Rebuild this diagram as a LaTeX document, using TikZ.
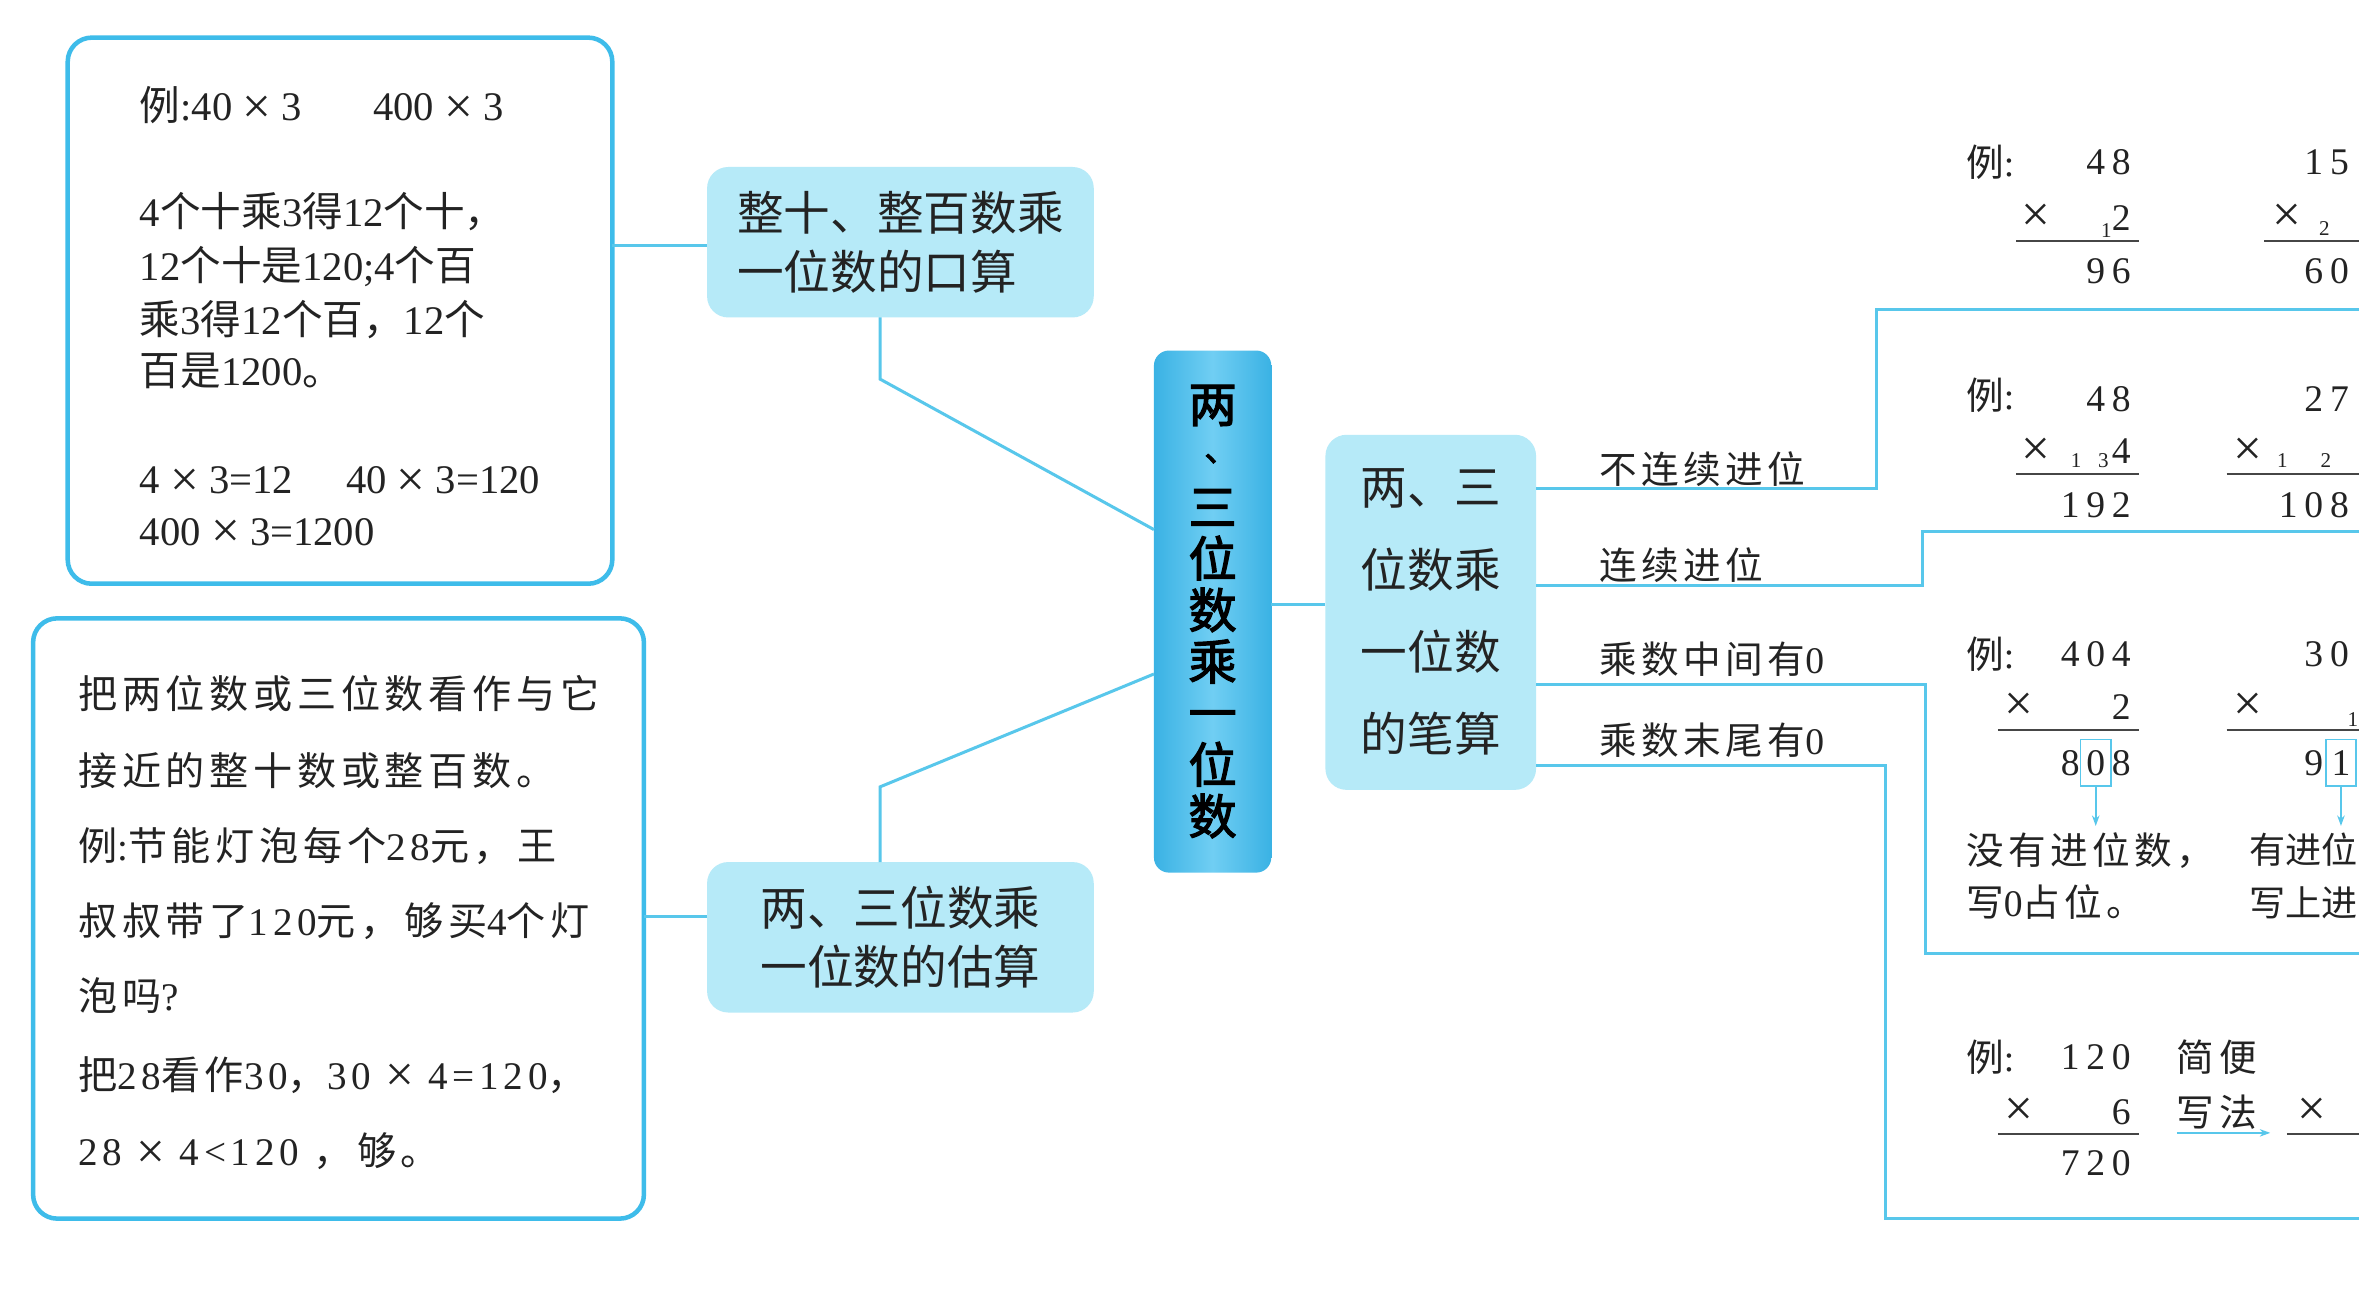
\documentclass[tikz,border=0pt]{standalone}
\usepackage{fontspec}
\setmainfont{Liberation Serif}
\newfontfamily\cjkA{Noto Sans CJK SC}[AutoFakeBold=2.5]
\newfontfamily\cjkB{Noto Sans CJK SC}[LetterSpace=12]
\newfontfamily\latA{Liberation Serif}
\newfontfamily\latB{Liberation Serif}[LetterSpace=12]
\usetikzlibrary{arrows.meta}
\newcount\cjkcnt
\def\setclassrange#1#2#3{\cjkcnt=#1\relax
  \loop\XeTeXcharclass\cjkcnt=#3\relax
  \ifnum\cjkcnt<#2\advance\cjkcnt by 1\relax\repeat}
\setclassrange{"0021}{"007E}{0}
\XeTeXcharclass"00D7=0
\setclassrange{"3000}{"303F}{5}
\setclassrange{"4E00}{"9FFF}{5}
\setclassrange{"FF00}{"FFEF}{5}
\def\cjkfont{\cjkA}
\def\latfont{\latA}
\XeTeXinterchartokenstate=1
\XeTeXinterchartoks 0 5 = {\cjkfont}
\XeTeXinterchartoks 5 0 = {\latfont}
\XeTeXinterchartoks 4095 5 = {\cjkfont}
\XeTeXinterchartoks 5 4095 = {\latfont}
\newcommand\spfont{\def\cjkfont{\cjkB}\def\latfont{\latB}\latB}
\newcommand\dd[1]{\makebox[17pt]{#1}}
\newcommand\X{{\fontsize{34}{34}\selectfont\raisebox{-1.5pt}{×}}}
\definecolor{linec}{RGB}{88,199,235}
\definecolor{boxc}{RGB}{62,188,234}
\definecolor{nodec}{RGB}{182,234,248}
\definecolor{ctrA}{RGB}{58,178,228}
\definecolor{ctrB}{RGB}{112,206,243}
\definecolor{txt}{RGB}{35,35,35}
\definecolor{rulec}{RGB}{70,70,70}
\tikzset{
  every node/.style={inner sep=0pt, outer sep=0pt, text=txt},
  bigbox/.style={draw=boxc, line width=3pt, rounded corners=16pt, fill=white},
  topic/.style={fill=nodec, rounded corners=14pt, minimum width=257pt, minimum height=100pt,
     font=\fontsize{31}{39}\selectfont},
  conn/.style={draw=linec, line width=2pt},
  tA/.style={anchor=west, font=\fontsize{27}{32}\selectfont, text height=23.8pt, text depth=3.2pt},
  tB/.style={anchor=west, font=\spfont\fontsize{26}{30}\selectfont, text height=22.9pt, text depth=3.1pt},
  lab/.style={anchor=west, font=\spfont\fontsize{25}{30}\selectfont, text height=22pt, text depth=3pt},
  labn/.style={anchor=west, font=\fontsize{24}{30}\selectfont, text height=21.1pt, text depth=2.9pt},
  num/.style={font=\fontsize{25}{30}\selectfont},
  mul/.style={font=\fontsize{34}{34}\selectfont},
  carry/.style={font=\fontsize{14}{16}\selectfont},
  rulel/.style={draw=rulec, line width=1.3pt},
  arr/.style={draw=linec, line width=1pt, -{Stealth[length=7pt,width=5pt]}},
  digbox/.style={draw=linec, line width=1pt, minimum width=20pt, minimum height=31pt},
}
\begin{document}
\begin{tikzpicture}[x=1pt,y=-1pt]
\useasboundingbox (0,0) rectangle (1568,862);
\fill[white] (0,0) rectangle (1568,862);
\clip (0,0) rectangle (1568,862);

% ---------- main nodes ----------
\node[bigbox, minimum width=362pt, minimum height=363pt] (box1) at (226,206.5) {};
\node[bigbox, minimum width=406pt, minimum height=399pt] (box2) at (225,610.5) {};
\node[topic, align=left] (A) at (598.5,161) {整十、整百数乘\\一位数的口算};
\node[topic, align=center] (B) at (598.5,623) {两、三位数乘\\一位数的估算};
\node[rounded corners=10pt, left color=ctrA, right color=ctrA, middle color=ctrB,
      minimum width=78pt, minimum height=347pt, align=center,
      font=\bfseries\fontsize{32}{34.25}\selectfont, text=black] (ctr) at (806,406.5)
      {两\\\hspace*{11pt}\raisebox{8pt}{\fontsize{22}{22}\selectfont 、}\\三\\位\\数\\乘\\一\\位\\数};
\node[fill=nodec, rounded corners=14pt, minimum width=140pt, minimum height=236pt,
      align=center, font=\fontsize{31}{54.7}\selectfont] (C) at (951,407)
      {两、三\\位数乘\\一位数\\的笔算};

% ---------- connectors ----------
\draw[conn] ([yshift=-2pt]A.west) -- ([yshift=-2pt]A.west -| box1.east);
\draw[conn] ([yshift=14pt]B.west) -- ([yshift=14pt]B.west -| box2.east);
\draw[conn] ([xshift=-13.5pt]A.south) -- ++(0,41) -- ([yshift=54.5pt]ctr.west);
\draw[conn] ([xshift=-13.5pt]B.north) -- ++(0,-50) -- ([yshift=-41.5pt]ctr.west);
\draw[conn] ([yshift=5pt]ctr.east) -- ([yshift=5pt]ctr.east -| C.west);
\draw[conn] ([yshift=82pt]C.east) -| (1247,206) -- (1568,206);
\draw[conn] ([yshift=18pt]C.east) -| (1278,353) -- (1568,353);
\draw[conn] ([yshift=-48pt]C.east) -| (1280,634) -- (1568,634);
\draw[conn] ([yshift=-102pt]C.east) -| (1253,810) -- (1568,810);

% ---------- box 1 text ----------
\node[tA] (b1a) at (93,70) {例:40 \X{} 3};
\node[tA] (b1b) at (248,70) {400 \X{} 3};
\node[tA] (b1c) at (93,140) {4个十乘3得12个十，};
\node[tA] (b1d) at (93,176) {12个十是120;4个百};
\node[tA] (b1e) at (93,212) {乘3得12个百，12个};
\node[tA] (b1f) at (93,246) {百是1200。};
\node[tA] (b1g) at (93,318) {4 \X{} 3=12};
\node[tA] (b1h) at (230,318) {40 \X{} 3=120};
\node[tA] (b1i) at (93,352) {400 \X{} 3=1200};

% ---------- box 2 text ----------
\node[tB] (b2a) at (52,461) {把两位数或三位数看作与它};
\node[tB] (b2b) at (52,512) {接近的整十数或整百数。};
\node[tB] (b2c) at (52,562) {例:节能灯泡每个28元，王};
\node[tB] (b2d) at (52,612) {叔叔带了120元，够买4个灯};
\node[tB] (b2e) at (52,662) {泡吗?};
\node[tB] (b2f) at (52,714) {把28看作30，30 \X{} 4=120，};
\node[tB] (b2g) at (52,765) {28 \X{} 4<120 ，够。};

% ---------- branch labels ----------
\node[lab] (l1) at (1063,312) {不连续进位};
\node[lab] (l2) at (1063,376) {连续进位};
\node[lab] (l3) at (1063,438) {乘数中间有0};
\node[lab] (l4) at (1063,492) {乘数末尾有0};

% ---------- row 1 ----------
\node[lab] (r1e) at (1307,108) {例:};
\node[num, anchor=east] (r1a) at (1418.5,108) {\dd4\dd8};
\node[mul] (r1x) at (1353,145) {×};
\node[carry] (r1c) at (1400,153) {1};
\node[num] (r1m) at (1410,145) {2};
\draw[rulel] (1340,160) -- (1422,160);
\node[num, anchor=east] (r1p) at (1418.5,180) {\dd9\dd6};
\node[num, anchor=east] (r1a2) at (1563.5,108) {\dd1\dd5};
\node[mul] (r1x2) at (1520,145) {×};
\node[carry] (r1c2) at (1545,152) {2};
\draw[rulel] (1505,160) -- (1568,160);
\node[num, anchor=east] (r1p2) at (1563.5,180) {\dd6\dd0};

% ---------- row 2 ----------
\node[lab] (r2e) at (1307,263) {例:};
\node[num, anchor=east] (r2a) at (1418.5,265) {\dd4\dd8};
\node[mul] (r2x) at (1353,300) {×};
\node[carry] (r2c) at (1380,306) {1};
\node[carry] (r2d) at (1398,306) {3};
\node[num] (r2m) at (1410,300) {4};
\draw[rulel] (1340,315) -- (1422,315);
\node[num, anchor=east] (r2p) at (1418.5,336) {\dd1\dd9\dd2};
\node[num, anchor=east] (r2a2) at (1563.5,265) {\dd2\dd7};
\node[mul] (r2x2) at (1494,300) {×};
\node[carry] (r2c2) at (1517,306) {1};
\node[carry] (r2d2) at (1546,306) {2};
\draw[rulel] (1480,315) -- (1568,315);
\node[num, anchor=east] (r2p2) at (1563.5,336) {\dd1\dd0\dd8};

% ---------- row 3 ----------
\node[lab] (r3e) at (1307,435) {例:};
\node[num, anchor=east] (r3a) at (1418.5,435) {\dd4\dd0\dd4};
\node[mul] (r3x) at (1342,470) {×};
\node[num] (r3m) at (1410,470) {2};
\draw[rulel] (1328,485) -- (1422,485);
\node[num] (r3p1) at (1376,507) {8};
\node[num, digbox] (r3p2) at (1393,507) {0};
\node[num] (r3p3) at (1410,507) {8};
\coordinate (r3t) at (1393,549);
\draw[arr] (r3p2.south) -- (r3t);
\node[lab] (r3n1) at (1307,565) {没有进位数，};
\node[lab] (r3n2) at (1307,600) {写0占位。};
\node[num, anchor=east] (r3a2) at (1563.5,435) {\dd3\dd0};
\node[mul] (r3x2) at (1494,470) {×};
\node[carry] (r3c2) at (1564,478) {1};
\draw[rulel] (1480,485) -- (1568,485);
\node[num] (r3q1) at (1538,507) {9};
\node[num, digbox] (r3q2) at (1556,507) {1};
\coordinate (r3u) at (1556,549);
\draw[arr] (r3q2.south) -- (r3u);
\node[labn] (r3n3) at (1495,565) {有进位};
\node[labn] (r3n4) at (1495,600) {写上进};

% ---------- row 4 ----------
\node[lab] (r4e) at (1307,703) {例:};
\node[num, anchor=east] (r4a) at (1418.5,703) {\dd1\dd2\dd0};
\node[lab] (r4s1) at (1447,703) {简便};
\node[mul] (r4x) at (1342,739) {×};
\node[num] (r4m) at (1410,739) {6};
\draw[rulel] (1328,754) -- (1422,754);
\node[lab] (r4s2) at (1447,739) {写法};
\coordinate (r4t) at (1509,753);
\draw[arr] (r4s2.west |- r4t) -- (r4t);
\node[mul] (r4x2) at (1537,739) {×};
\draw[rulel] (1520,754) -- (1568,754);
\node[num, anchor=east] (r4p) at (1418.5,773) {\dd7\dd2\dd0};
\end{tikzpicture}
\end{document}
